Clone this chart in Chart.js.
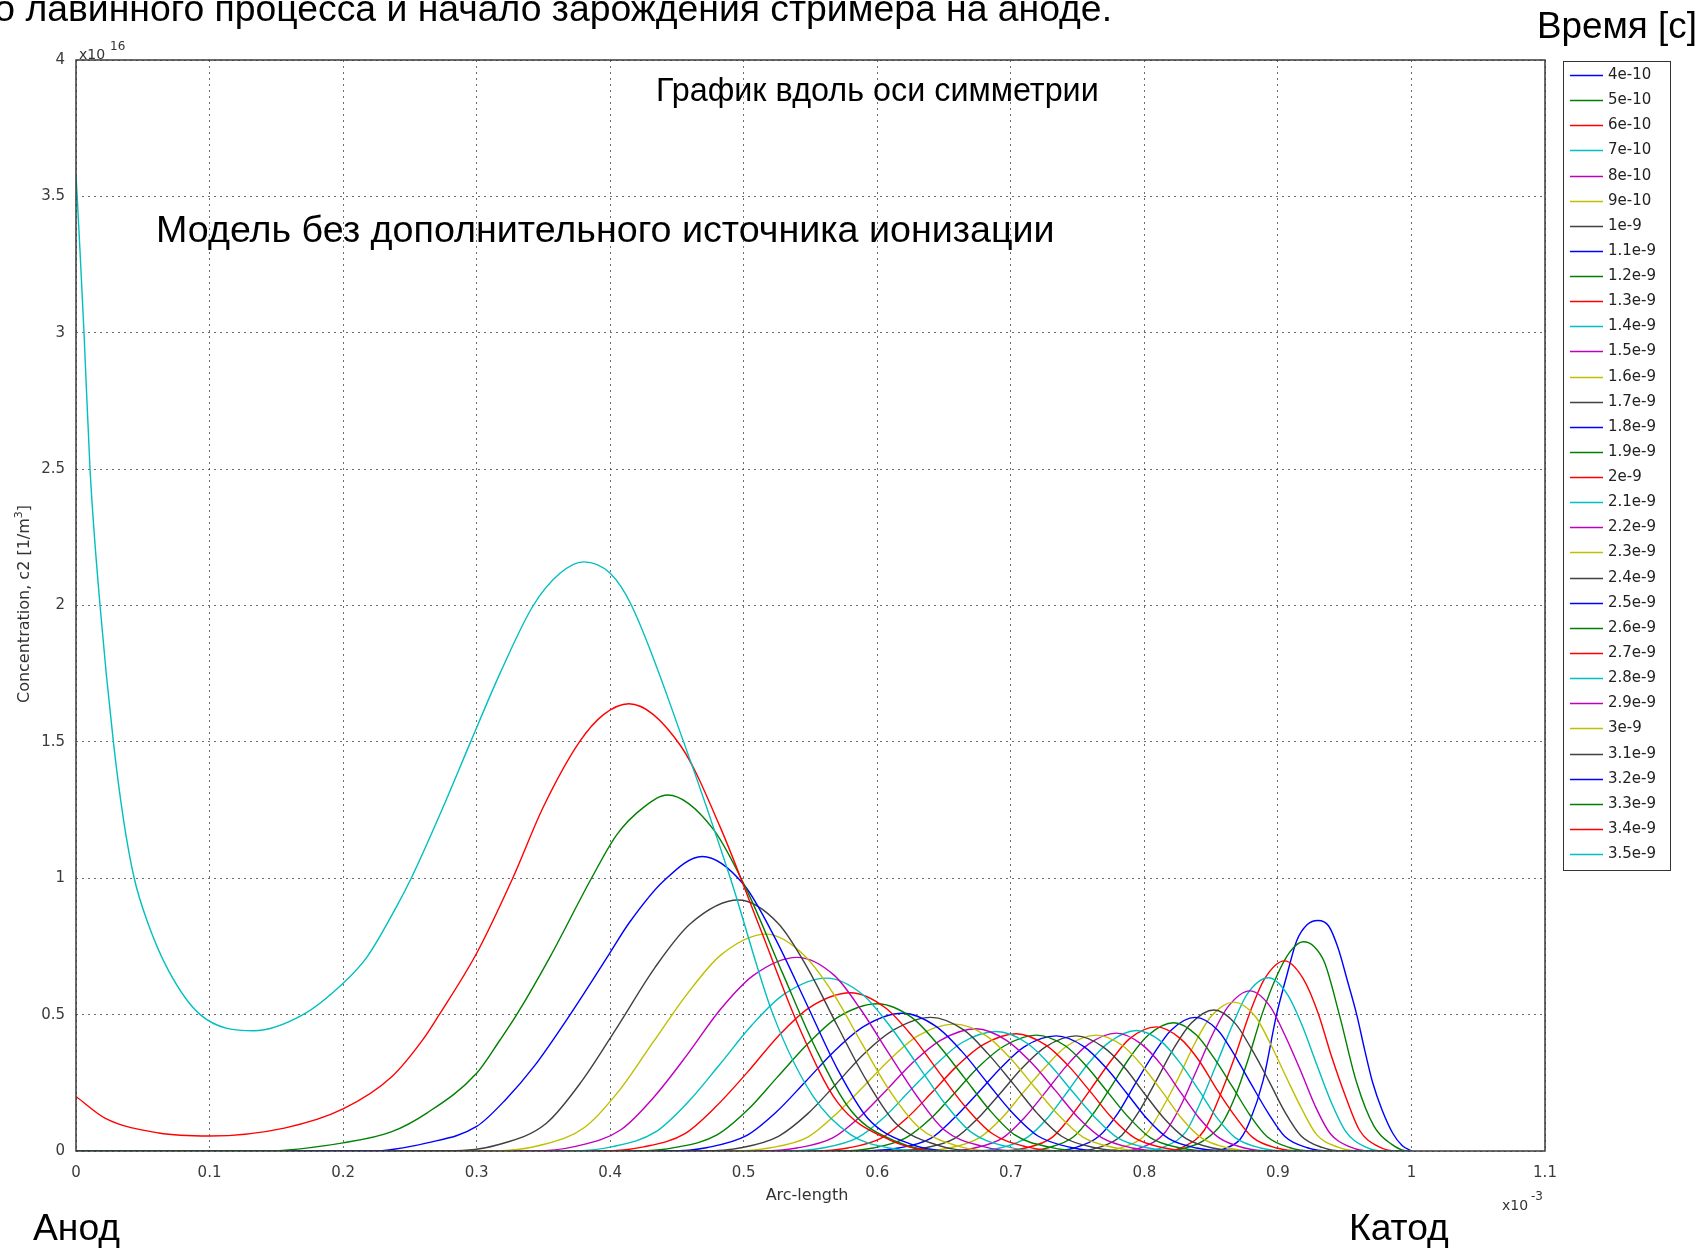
<!DOCTYPE html>
<html><head><meta charset="utf-8">
<script src="https://cdn.jsdelivr.net/npm/chart.js@4.4.1/dist/chart.umd.min.js"></script>
<style>html,body{margin:0;padding:0;background:#fff;overflow:hidden}canvas{display:block}</style>
</head><body>
<canvas id="c" width="1706" height="1249"></canvas>
<script>
// ---- DATA (x in units of 1e-3, y in units of 1e16) ----
const times = ['4e-10','5e-10','6e-10','7e-10','8e-10','9e-10','1e-9','1.1e-9','1.2e-9','1.3e-9','1.4e-9','1.5e-9','1.6e-9','1.7e-9','1.8e-9','1.9e-9','2e-9','2.1e-9','2.2e-9','2.3e-9','2.4e-9','2.5e-9','2.6e-9','2.7e-9','2.8e-9','2.9e-9','3e-9','3.1e-9','3.2e-9','3.3e-9','3.4e-9','3.5e-9'];
const xTickValues = [0,0.1,0.2,0.3,0.4,0.5,0.6,0.7,0.8,0.9,1,1.1];
const xTickLabels = ['0','0.1','0.2','0.3','0.4','0.5','0.6','0.7','0.8','0.9','1','1.1'];
const yTickValues = [0,0.5,1,1.5,2,2.5,3,3.5,4];
const yTickLabels = ['0','0.5','1','1.5','2','2.5','3','3.5','4'];

const c0 = [[0,0],[.85,0],[.862,.012],[.872,.045],[.879,.11],[.889,.26],[.899,.5],[.907,.65],[.914,.77],[.922,.83],[.930,.845],[.938,.825],[.945,.745],[.952,.625],[.959,.5],[.965,.37],[.971,.25],[.978,.15],[.986,.065],[.993,.02],[1,0]];
const c1 = [[0,0],[.81,0],[.83,.01],[.845,.04],[.858,.1],[.868,.2],[.878,.34],[.888,.5],[.899,.64],[.909,.73],[.919,.767],[.927,.75],[.935,.69],[.946,.5],[.959,.25],[.972,.09],[.985,.025],[.997,0],[1,0]];
const c2 = [[0,0],[.815,0],[.830,.017],[.845,.077],[.856,.195],[.868,.349],[.879,.507],[.890,.631],[.905,.697],[.919,.631],[.930,.507],[.940,.349],[.951,.195],[.961,.077],[.975,.017],[.989,0],[1,0]];
const c3 = [[0,0],[.799,0],[.815,.016],[.831,.070],[.842,.178],[.854,.318],[.866,.462],[.877,.575],[.893,.635],[.907,.575],[.918,.462],[.929,.318],[.940,.178],[.951,.070],[.965,.016],[.979,0],[1,0]];
const c4 = [[0,0],[.783,0],[.799,.015],[.815,.065],[.827,.164],[.839,.294],[.851,.427],[.863,.531],[.879,.587],[.894,.531],[.905,.427],[.917,.294],[.928,.164],[.939,.065],[.954,.015],[.969,0],[1,0]];
const c5 = [[0,0],[.767,0],[.784,.014],[.801,.060],[.813,.153],[.826,.273],[.838,.397],[.850,.494],[.867,.546],[.883,.494],[.894,.397],[.906,.273],[.918,.153],[.929,.060],[.945,.014],[.961,0],[1,0]];
const c6 = [[0,0],[.749,0],[.766,.013],[.783,.057],[.796,.145],[.809,.259],[.822,.376],[.835,.468],[.852,.517],[.868,.468],[.880,.376],[.893,.259],[.905,.145],[.917,.057],[.933,.013],[.949,0],[1,0]];
const c7 = [[0,0],[.730,0],[.748,.012],[.766,.054],[.780,.137],[.793,.245],[.807,.356],[.820,.443],[.838,.490],[.855,.443],[.867,.356],[.880,.245],[.893,.137],[.905,.054],[.922,.012],[.939,0],[1,0]];
const c8 = [[0,0],[.709,0],[.728,.012],[.747,.052],[.761,.132],[.775,.235],[.789,.342],[.803,.425],[.822,.470],[.839,.425],[.852,.342],[.866,.235],[.879,.132],[.892,.052],[.909,.012],[.926,0],[1,0]];
const c9 = [[0,0],[.691,0],[.711,.011],[.731,.050],[.745,.127],[.760,.228],[.775,.331],[.789,.412],[.809,.455],[.827,.412],[.841,.331],[.854,.228],[.868,.127],[.881,.050],[.899,.011],[.917,0],[1,0]];
const c10 = [[0,0],[.672,0],[.692,.011],[.712,.049],[.728,.124],[.743,.221],[.758,.321],[.774,.400],[.794,.442],[.813,.400],[.827,.321],[.841,.221],[.854,.124],[.868,.049],[.887,.011],[.906,0],[1,0]];
const c11 = [[0,0],[.652,0],[.673,.011],[.694,.048],[.710,.121],[.726,.216],[.742,.314],[.758,.391],[.779,.432],[.798,.391],[.813,.314],[.827,.216],[.841,.121],[.856,.048],[.875,.011],[.894,0],[1,0]];
const c12 = [[0,0],[.632,0],[.654,.011],[.676,.047],[.693,.119],[.709,.213],[.726,.309],[.742,.385],[.764,.425],[.784,.385],[.799,.309],[.814,.213],[.828,.119],[.843,.047],[.863,.011],[.883,0],[1,0]];
const c13 = [[0,0],[.612,0],[.635,.011],[.658,.046],[.675,.118],[.692,.211],[.709,.307],[.726,.382],[.749,.422],[.769,.382],[.785,.307],[.800,.211],[.815,.118],[.831,.046],[.851,.011],[.871,0],[1,0]];
const c14 = [[0,0],[.592,0],[.616,.011],[.640,.046],[.657,.118],[.675,.211],[.693,.307],[.710,.382],[.734,.422],[.755,.382],[.771,.307],[.787,.211],[.802,.118],[.818,.046],[.839,.011],[.860,0],[1,0]];
const c15 = [[0,0],[.573,0],[.597,.011],[.621,.047],[.640,.119],[.658,.213],[.676,.309],[.695,.385],[.719,.425],[.741,.385],[.757,.309],[.773,.213],[.789,.119],[.805,.047],[.827,.011],[.849,0],[1,0]];
const c16 = [[0,0],[.553,0],[.578,.011],[.603,.047],[.622,.120],[.641,.215],[.660,.313],[.679,.389],[.704,.430],[.726,.389],[.743,.313],[.760,.215],[.776,.120],[.793,.047],[.815,.011],[.837,0],[1,0]];
const c17 = [[0,0],[.533,0],[.559,.011],[.585,.048],[.605,.123],[.624,.219],[.644,.318],[.663,.396],[.689,.438],[.712,.396],[.729,.318],[.746,.219],[.763,.123],[.780,.048],[.803,.011],[.826,0],[1,0]];
const c18 = [[0,0],[.513,0],[.540,.011],[.567,.049],[.587,.125],[.607,.224],[.627,.326],[.647,.405],[.674,.448],[.697,.405],[.715,.326],[.733,.224],[.750,.125],[.768,.049],[.791,.011],[.814,0],[1,0]];
const c19 = [[0,0],[.492,0],[.520,.012],[.548,.051],[.568,.130],[.589,.233],[.610,.338],[.630,.421],[.658,.465],[.682,.421],[.700,.338],[.718,.233],[.736,.130],[.754,.051],[.778,.012],[.802,0],[1,0]];
const c20 = [[0,0],[.470,0],[.498,.012],[.526,.054],[.548,.137],[.569,.245],[.590,.356],[.612,.443],[.640,.490],[.665,.443],[.683,.356],[.702,.245],[.720,.137],[.738,.054],[.763,.012],[.788,0],[1,0]];
const c21 = [[0,0],[.444,0],[.473,.013],[.502,.056],[.524,.141],[.546,.253],[.568,.367],[.590,.457],[.619,.505],[.644,.457],[.663,.367],[.682,.253],[.701,.141],[.720,.056],[.745,.013],[.770,0],[1,0]];
const c22 = [[0,0],[.420,0],[.450,.014],[.480,.059],[.503,.151],[.525,.270],[.548,.393],[.570,.489],[.600,.540],[.626,.489],[.645,.393],[.665,.270],[.684,.151],[.703,.059],[.729,.014],[.755,0],[1,0]];
const c23 = [[0,0],[.394,0],[.425,.015],[.456,.064],[.479,.162],[.503,.290],[.526,.422],[.549,.525],[.580,.580],[.606,.525],[.626,.422],[.646,.290],[.666,.162],[.686,.064],[.712,.015],[.738,0],[1,0]];
const c24 = [[0,0],[.370,0],[.402,.016],[.434,.070],[.458,.178],[.482,.317],[.506,.461],[.530,.574],[.562,.634],[.589,.574],[.609,.461],[.630,.317],[.650,.178],[.670,.070],[.697,.016],[.724,0],[1,0]];
const c25 = [[0,0],[.342,0],[.375,.018],[.408,.078],[.433,.199],[.458,.355],[.482,.516],[.507,.643],[.540,.710],[.568,.643],[.588,.516],[.609,.355],[.630,.199],[.650,.078],[.678,.018],[.706,0],[1,0]];
const c26 = [[0,0],[.313,0],[.347,.020],[.381,.087],[.407,.223],[.432,.398],[.458,.578],[.483,.719],[.517,.795],[.545,.719],[.567,.578],[.588,.398],[.609,.223],[.631,.087],[.659,.020],[.687,0],[1,0]];
const c27 = [[0,0],[.280,0],[.316,.023],[.352,.101],[.379,.258],[.406,.460],[.433,.669],[.460,.833],[.496,.920],[.526,.833],[.548,.669],[.570,.460],[.592,.258],[.614,.101],[.644,.023],[.674,0],[1,0]];
const c28 = [[0,0],[.22,0],[.263,.03],[.3,.09],[.322,.19],[.343,.31],[.37,.5],[.399,.72],[.414,.835],[.44,.99],[.469,1.08],[.5,.977],[.523,.785],[.547,.54],[.570,.302],[.593,.119],[.624,.027],[.655,0],[1,0]];
const c29 = [[0,0],[.14,0],[.2,.03],[.236,.07],[.263,.14],[.3,.285],[.3175,.407],[.33,.5],[.355,.712],[.386,1.0],[.405,1.16],[.425,1.26],[.443,1.305],[.477,1.181],[.503,.949],[.529,.653],[.555,.365],[.581,.144],[.615,.033],[.649,0],[1,0]];
const c30 = [[0,.20],[.022,.12],[.062,.066],[.1,.055],[.156,.084],[.2,.154],[.236,.27],[.26,.41],[.272,.5],[.3,.725],[.327,1.0],[.35,1.262],[.377,1.5],[.395,1.6],[.414,1.64],[.453,1.484],[.482,1.192],[.512,.82],[.541,.459],[.570,.18],[.609,.041],[.648,0],[1,0]];
const c31 = [[0,3.58],[.003,3.3],[.006,3.0],[.0105,2.5],[.018,2.0],[.028,1.5],[.0356,1.214],[.0436,1.0],[.053,.847],[.069,.664],[.093,.5],[.133,.441],[.170,.5],[.2,.615],[.218,.712],[.24,.896],[.251,1.0],[.275,1.262],[.2955,1.5],[.3175,1.751],[.3424,2.0],[.3624,2.118],[.38,2.16],[.40,2.118],[.416,2.0],[.455,1.5],[.49,1.0],[.522,.5],[.552,.2],[.58,.06],[.61,.01],[.64,0],[1,0]];

const series = [c0,c1,c2,c3,c4,c5,c6,c7,c8,c9,c10,c11,c12,c13,c14,c15,c16,c17,c18,c19,c20,c21,c22,c23,c24,c25,c26,c27,c28,c29,c30,c31];

// ---- STYLE ----
const palette = ['#0000ff','#008000','#ff0000','#00bfbf','#bf00bf','#bfbf00','#404040'];
const tickFont = {family:'DejaVu Sans', size:15};

const datasets = times.map((t,i)=>({
  label:t,
  data: series[i].map(p=>({x:p[0], y:p[1]})),
  borderColor: palette[i%7],
  backgroundColor: palette[i%7],
  borderWidth: 1.4,
  pointRadius: 0,
  fill: false,
  cubicInterpolationMode: 'monotone',
  order: times.length - i
}));

function fitFont(ctx, text, width, family){
  ctx.font = '100px ' + family;
  const w = ctx.measureText(text).width;
  return 100 * width / w;
}

const deco = {
  id: 'deco',
  beforeDraw(chart){
    const c = chart.ctx; c.save(); c.fillStyle = '#fff'; c.fillRect(0,0,chart.width,chart.height); c.restore();
  },
  afterDraw(chart){
    const c = chart.ctx, a = chart.chartArea;
    c.save();
    // plot frame
    c.strokeStyle = '#3a3a3a'; c.lineWidth = 1.5;
    c.strokeRect(a.left, a.top, a.right - a.left, a.bottom - a.top);

    // legend
    const lx = 1563.5, ly = 61.5, lw = 107, lh = 809;
    c.fillStyle = '#fff'; c.fillRect(lx, ly, lw, lh);
    c.strokeStyle = '#333'; c.lineWidth = 1; c.strokeRect(lx, ly, lw, lh);
    c.font = '15px "DejaVu Sans"'; c.textBaseline = 'middle'; c.textAlign = 'left';
    chart.data.datasets.forEach((ds, i) => {
      const y = Math.round(75 + i * 25.13) + 0.5;
      c.strokeStyle = ds.borderColor; c.lineWidth = 1.3;
      c.beginPath(); c.moveTo(1570, y); c.lineTo(1603, y); c.stroke();
      c.fillStyle = '#222'; c.fillText(ds.label, 1608, y);
    });

    // axis titles
    c.fillStyle = '#333'; c.textBaseline = 'alphabetic';
    c.font = '16px "DejaVu Sans"'; c.textAlign = 'center';
    c.fillText('Arc-length', 807, 1200);
    // x multiplier
    c.textAlign = 'left';
    c.font = '14px "DejaVu Sans"'; c.fillText('x10', 1502, 1210);
    c.font = '12px "DejaVu Sans"'; c.fillText('-3', 1531, 1200);
    // y multiplier
    c.font = '14px "DejaVu Sans"'; c.fillText('x10', 79, 59);
    c.font = '12px "DejaVu Sans"'; c.fillText('16', 110, 50);
    // y title rotated
    c.save();
    c.translate(29, 604); c.rotate(-Math.PI/2);
    const t1 = 'Concentration, c2 [1/m', t3 = ']';
    c.font = '16px "DejaVu Sans"'; const w1 = c.measureText(t1).width; const w3 = c.measureText(t3).width;
    c.font = '11px "DejaVu Sans"'; const w2 = c.measureText('3').width;
    let x0 = -(w1 + w2 + w3) / 2;
    c.textAlign = 'left';
    c.font = '16px "DejaVu Sans"'; c.fillText(t1, x0, 0);
    c.font = '11px "DejaVu Sans"'; c.fillText('3', x0 + w1, -7);
    c.font = '16px "DejaVu Sans"'; c.fillText(t3, x0 + w1 + w2, 0);
    c.restore();

    // annotations
    const fam = '"Liberation Sans", Arial, sans-serif';
    c.fillStyle = '#000'; c.textAlign = 'left'; c.textBaseline = 'alphabetic';
    const topLine = 'о лавинного процесса и начало зарождения стримера на аноде.';
    const sTop = fitFont(c, topLine, 1118, fam);
    c.font = sTop.toFixed(2) + 'px ' + fam;
    c.textAlign = 'right';
    c.fillText(topLine, 1112, 21);
    c.textAlign = 'left';
    const sGraph = fitFont(c, 'График вдоль оси симметрии', 443, fam);
    c.font = sGraph.toFixed(2) + 'px ' + fam;
    c.fillText('График вдоль оси симметрии', 656, 101);
    const sModel = fitFont(c, 'Модель без дополнительного источника ионизации', 899, fam);
    c.font = sModel.toFixed(2) + 'px ' + fam;
    c.fillText('Модель без дополнительного источника ионизации', 156, 242);
    const sTime = fitFont(c, 'Время [с]', 160, fam);
    c.font = sTime.toFixed(2) + 'px ' + fam;
    c.fillText('Время [с]', 1537, 38);
    const sAnod = fitFont(c, 'Анод', 87, fam);
    c.font = sAnod.toFixed(2) + 'px ' + fam;
    c.fillText('Анод', 33, 1240);
    c.fillText('Катод', 1349, 1240);
    c.restore();
  }
};

new Chart(document.getElementById('c').getContext('2d'), {
  type: 'line',
  data: { datasets },
  plugins: [deco],
  options: {
    responsive: false, animation: false, devicePixelRatio: 1,
    layout: { padding: { left: 0, right: 161, top: 60, bottom: 0 } },
    plugins: { legend: { display: false }, tooltip: { enabled: false }, title: { display: false } },
    scales: {
      x: {
        type: 'linear', min: 0, max: 1.1,
        afterBuildTicks: s => { s.ticks = xTickValues.map(v => ({ value: v })); },
        afterFit: s => { s.height = 98; },
        ticks: { callback: (v, i) => xTickLabels[i], padding: 13, font: tickFont, color: '#3a3a3a', maxRotation: 0, autoSkip: false },
        grid: { color: 'rgba(60,60,60,0.75)', lineWidth: 1, drawTicks: false },
        border: { display: false, dash: [2, 4] }
      },
      y: {
        type: 'linear', min: 0, max: 4,
        afterBuildTicks: s => { s.ticks = yTickValues.map(v => ({ value: v })); },
        afterFit: s => { s.width = 76; },
        ticks: { callback: (v, i) => yTickLabels[i], padding: 11, font: tickFont, color: '#3a3a3a', autoSkip: false },
        grid: { color: 'rgba(60,60,60,0.75)', lineWidth: 1, drawTicks: false },
        border: { display: false, dash: [2, 4] }
      }
    }
  }
});
</script>
</body></html>
